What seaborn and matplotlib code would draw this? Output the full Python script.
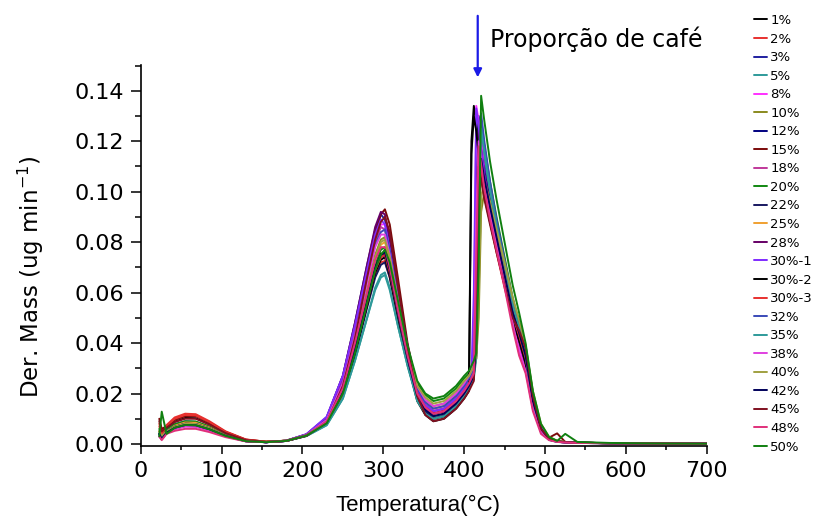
import matplotlib
matplotlib.use("Agg")
import matplotlib.pyplot as plt
import seaborn as sns
import pandas as pd
from matplotlib.ticker import MultipleLocator, FormatStrFormatter

# Temperature grid (°C) shared by every DTG curve
temperature = [23, 26, 32, 42, 55, 68, 85, 105, 130, 155, 180, 205, 230,
               250, 265, 280, 290, 297, 302, 308, 318, 330, 342, 352, 362, 375, 390, 400,
               406, 409, 412, 415, 418, 421, 425, 432, 440, 450,
               460, 468, 476, 485, 495, 505, 515, 525, 540, 580, 640, 700]

labels = ["1%", "2%", "3%", "5%", "8%", "10%", "12%", "15%", "18%", "20%", "22%", "25%",
          "28%", "30%-1", "30%-2", "30%-3", "32%", "35%", "38%", "40%", "42%", "45%", "48%", "50%"]

colors = ["#000000", "#e8312f", "#2020a0", "#2e9a9a", "#ff30ff", "#8a8a1e", "#000080", "#7b0a0a",
          "#c0389a", "#118811", "#181860", "#f0a030", "#660066", "#7f2bff", "#000000", "#e8312f",
          "#3a4ab8", "#2e9a9a", "#e040e0", "#a0a040", "#00005a", "#801020", "#e0307a", "#108010"]

# Derivative mass (ug/min) for each coffee proportion
d01 = [0.004, 0.002, 0.006, 0.0088, 0.0103, 0.0102, 0.0078, 0.0044, 0.0016, 0.0008, 0.0013, 0.0035, 0.0085,
       0.021, 0.038, 0.057, 0.070, 0.0755, 0.075, 0.068, 0.052, 0.034, 0.020, 0.0145, 0.012, 0.013, 0.017, 0.021,
       0.025, 0.120, 0.134, 0.128, 0.118, 0.110, 0.102, 0.092, 0.080, 0.065,
       0.050, 0.041, 0.031, 0.015, 0.005, 0.0018, 0.0009, 0.0007, 0.0005, 0.0003, 0.0002, 0.0001]
d02 = [0.008, 0.005, 0.0075, 0.0105, 0.0120, 0.0118, 0.0090, 0.0050, 0.0018, 0.0009, 0.0013, 0.0034, 0.0080,
       0.020, 0.036, 0.055, 0.067, 0.072, 0.0725, 0.066, 0.050, 0.033, 0.019, 0.0135, 0.011, 0.012, 0.016, 0.020,
       0.023, 0.025, 0.027, 0.060, 0.112, 0.108, 0.100, 0.088, 0.076, 0.062,
       0.049, 0.042, 0.033, 0.016, 0.006, 0.002, 0.001, 0.0007, 0.0005, 0.0003, 0.0002, 0.0001]
d03 = [0.005, 0.003, 0.0055, 0.0078, 0.0090, 0.0088, 0.0068, 0.0038, 0.0014, 0.0008, 0.0013, 0.0038, 0.0105,
       0.027, 0.048, 0.071, 0.085, 0.091, 0.089, 0.079, 0.059, 0.038, 0.022, 0.0155, 0.013, 0.014, 0.018, 0.022,
       0.025, 0.027, 0.029, 0.075, 0.130, 0.124, 0.112, 0.098, 0.085, 0.069,
       0.053, 0.045, 0.034, 0.017, 0.006, 0.002, 0.001, 0.0007, 0.0005, 0.0003, 0.0002, 0.0001]
d05 = [0.004, 0.002, 0.005, 0.0068, 0.0080, 0.0079, 0.0061, 0.0034, 0.0012, 0.0007, 0.0012, 0.0032, 0.0075,
       0.018, 0.033, 0.050, 0.061, 0.066, 0.067, 0.061, 0.047, 0.031, 0.018, 0.013, 0.011, 0.0115, 0.015, 0.019,
       0.022, 0.024, 0.026, 0.045, 0.110, 0.127, 0.115, 0.099, 0.085, 0.069,
       0.053, 0.044, 0.032, 0.015, 0.005, 0.0017, 0.0009, 0.0006, 0.0004, 0.0003, 0.0002, 0.0001]
d08 = [0.004, 0.002, 0.0045, 0.006, 0.0070, 0.0069, 0.0054, 0.0030, 0.0011, 0.0007, 0.0012, 0.0037, 0.0100,
       0.025, 0.045, 0.067, 0.081, 0.087, 0.087, 0.078, 0.059, 0.039, 0.023, 0.0165, 0.014, 0.015, 0.019, 0.023,
       0.026, 0.028, 0.040, 0.134, 0.128, 0.120, 0.108, 0.095, 0.082, 0.066,
       0.050, 0.038, 0.030, 0.014, 0.005, 0.0018, 0.0009, 0.0006, 0.0004, 0.0003, 0.0002, 0.0001]
d10 = [0.005, 0.003, 0.005, 0.0072, 0.0085, 0.0084, 0.0066, 0.0036, 0.0013, 0.0008, 0.0013, 0.0035, 0.0090,
       0.022, 0.040, 0.061, 0.075, 0.081, 0.082, 0.075, 0.057, 0.038, 0.022, 0.0175, 0.015, 0.016, 0.020, 0.024,
       0.026, 0.028, 0.030, 0.034, 0.050, 0.092, 0.100, 0.094, 0.084, 0.071,
       0.057, 0.048, 0.037, 0.019, 0.007, 0.0025, 0.0012, 0.0008, 0.0005, 0.0003, 0.0002, 0.0001]
d12 = [0.004, 0.0025, 0.005, 0.0068, 0.0080, 0.0079, 0.0062, 0.0034, 0.0012, 0.0007, 0.0012, 0.0034, 0.0085,
       0.021, 0.037, 0.056, 0.069, 0.074, 0.075, 0.068, 0.052, 0.034, 0.020, 0.0145, 0.012, 0.013, 0.017, 0.021,
       0.024, 0.026, 0.028, 0.035, 0.090, 0.115, 0.108, 0.096, 0.084, 0.069,
       0.054, 0.046, 0.036, 0.018, 0.006, 0.002, 0.001, 0.0007, 0.0005, 0.0003, 0.0002, 0.0001]
d15 = [0.010, 0.006, 0.007, 0.0095, 0.0110, 0.0110, 0.0085, 0.0047, 0.0017, 0.0009, 0.0012, 0.0032, 0.0085,
       0.023, 0.043, 0.068, 0.083, 0.091, 0.093, 0.087, 0.066, 0.040, 0.021, 0.0125, 0.010, 0.011, 0.015, 0.019,
       0.022, 0.024, 0.026, 0.050, 0.118, 0.112, 0.104, 0.092, 0.080, 0.066,
       0.052, 0.044, 0.038, 0.020, 0.007, 0.0025, 0.0042, 0.0008, 0.0005, 0.0003, 0.0002, 0.0001]
d18 = [0.003, 0.002, 0.0045, 0.006, 0.0070, 0.0069, 0.0054, 0.0030, 0.0011, 0.0007, 0.0012, 0.0036, 0.0098,
       0.025, 0.044, 0.066, 0.080, 0.086, 0.085, 0.076, 0.057, 0.037, 0.022, 0.0155, 0.013, 0.014, 0.018, 0.022,
       0.025, 0.027, 0.029, 0.070, 0.122, 0.116, 0.106, 0.093, 0.080, 0.065,
       0.050, 0.040, 0.031, 0.015, 0.005, 0.0018, 0.0009, 0.0006, 0.0004, 0.0003, 0.0002, 0.0001]
d20 = [0.006, 0.003, 0.0055, 0.0078, 0.0090, 0.0089, 0.0069, 0.0038, 0.0014, 0.0008, 0.0013, 0.0034, 0.0085,
       0.021, 0.038, 0.058, 0.071, 0.077, 0.078, 0.072, 0.056, 0.038, 0.024, 0.0195, 0.017, 0.018, 0.022, 0.026,
       0.028, 0.030, 0.032, 0.036, 0.080, 0.126, 0.118, 0.104, 0.090, 0.074,
       0.058, 0.048, 0.038, 0.020, 0.007, 0.0025, 0.0012, 0.0008, 0.0005, 0.0003, 0.0002, 0.0001]
d22 = [0.004, 0.002, 0.0045, 0.0064, 0.0075, 0.0074, 0.0058, 0.0032, 0.0011, 0.0007, 0.0012, 0.0033, 0.0080,
       0.020, 0.035, 0.054, 0.066, 0.071, 0.072, 0.066, 0.050, 0.032, 0.018, 0.0125, 0.010, 0.011, 0.015, 0.019,
       0.022, 0.024, 0.026, 0.065, 0.120, 0.114, 0.104, 0.092, 0.079, 0.064,
       0.049, 0.041, 0.032, 0.015, 0.005, 0.0017, 0.0009, 0.0006, 0.0004, 0.0003, 0.0002, 0.0001]
d25 = [0.005, 0.003, 0.005, 0.0072, 0.0085, 0.0084, 0.0065, 0.0036, 0.0013, 0.0008, 0.0013, 0.0035, 0.0090,
       0.022, 0.040, 0.060, 0.073, 0.079, 0.080, 0.073, 0.056, 0.037, 0.022, 0.0165, 0.014, 0.015, 0.019, 0.023,
       0.025, 0.027, 0.029, 0.034, 0.085, 0.113, 0.106, 0.095, 0.083, 0.069,
       0.055, 0.047, 0.038, 0.020, 0.007, 0.0024, 0.0011, 0.0007, 0.0005, 0.0003, 0.0002, 0.0001]
d28 = [0.004, 0.0025, 0.005, 0.0068, 0.0080, 0.0079, 0.0062, 0.0034, 0.0012, 0.0007, 0.0013, 0.0038, 0.0105,
       0.027, 0.048, 0.071, 0.086, 0.092, 0.091, 0.081, 0.061, 0.039, 0.022, 0.0145, 0.012, 0.013, 0.017, 0.021,
       0.024, 0.026, 0.028, 0.100, 0.124, 0.117, 0.107, 0.094, 0.081, 0.066,
       0.051, 0.043, 0.034, 0.017, 0.006, 0.002, 0.001, 0.0007, 0.0005, 0.0003, 0.0002, 0.0001]
d30a = [0.004, 0.002, 0.0045, 0.0064, 0.0075, 0.0074, 0.0058, 0.0032, 0.0011, 0.0007, 0.0013, 0.0039, 0.0108,
        0.027, 0.047, 0.069, 0.083, 0.089, 0.087, 0.077, 0.058, 0.038, 0.022, 0.0155, 0.013, 0.014, 0.018, 0.022,
        0.025, 0.027, 0.060, 0.133, 0.126, 0.117, 0.106, 0.093, 0.081, 0.066,
        0.051, 0.042, 0.033, 0.016, 0.006, 0.002, 0.001, 0.0007, 0.0005, 0.0003, 0.0002, 0.0001]
d30b = [0.003, 0.002, 0.005, 0.0068, 0.0080, 0.0079, 0.0062, 0.0034, 0.0012, 0.0007, 0.0012, 0.0033, 0.0082,
        0.020, 0.036, 0.055, 0.068, 0.073, 0.074, 0.067, 0.050, 0.032, 0.017, 0.0115, 0.009, 0.010, 0.014, 0.018,
        0.021, 0.115, 0.130, 0.124, 0.114, 0.106, 0.098, 0.088, 0.077, 0.063,
        0.049, 0.041, 0.032, 0.015, 0.005, 0.0017, 0.0009, 0.0006, 0.0004, 0.0003, 0.0002, 0.0001]
d30c = [0.007, 0.004, 0.007, 0.0100, 0.0115, 0.0113, 0.0087, 0.0048, 0.0017, 0.0009, 0.0013, 0.0034, 0.0082,
        0.020, 0.037, 0.056, 0.069, 0.074, 0.075, 0.068, 0.052, 0.034, 0.020, 0.0145, 0.012, 0.013, 0.017, 0.021,
        0.024, 0.026, 0.028, 0.038, 0.090, 0.108, 0.101, 0.090, 0.079, 0.065,
        0.051, 0.043, 0.034, 0.017, 0.006, 0.002, 0.001, 0.0007, 0.0005, 0.0003, 0.0002, 0.0001]
d32 = [0.004, 0.0025, 0.005, 0.0068, 0.0080, 0.0079, 0.0062, 0.0034, 0.0012, 0.0007, 0.0013, 0.0036, 0.0095,
       0.024, 0.043, 0.065, 0.079, 0.084, 0.085, 0.077, 0.058, 0.038, 0.022, 0.0165, 0.014, 0.015, 0.019, 0.023,
       0.026, 0.028, 0.030, 0.048, 0.112, 0.131, 0.120, 0.104, 0.089, 0.073,
       0.057, 0.048, 0.039, 0.020, 0.007, 0.0024, 0.0011, 0.0007, 0.0005, 0.0003, 0.0002, 0.0001]
d35 = [0.004, 0.002, 0.0045, 0.0064, 0.0075, 0.0074, 0.0058, 0.0032, 0.0011, 0.0007, 0.0012, 0.0031, 0.0074,
       0.018, 0.033, 0.050, 0.062, 0.067, 0.068, 0.062, 0.047, 0.031, 0.017, 0.012, 0.010, 0.011, 0.015, 0.019,
       0.022, 0.024, 0.026, 0.034, 0.092, 0.125, 0.116, 0.101, 0.087, 0.071,
       0.055, 0.046, 0.035, 0.016, 0.005, 0.0016, 0.0008, 0.0006, 0.0004, 0.0003, 0.0002, 0.0001]
d38 = [0.003, 0.002, 0.0045, 0.006, 0.0070, 0.0069, 0.0054, 0.0030, 0.0011, 0.0007, 0.0012, 0.0036, 0.0095,
       0.024, 0.043, 0.064, 0.078, 0.083, 0.083, 0.075, 0.057, 0.038, 0.023, 0.0175, 0.015, 0.016, 0.020, 0.024,
       0.027, 0.029, 0.031, 0.090, 0.120, 0.113, 0.104, 0.092, 0.079, 0.064,
       0.048, 0.036, 0.029, 0.014, 0.005, 0.0018, 0.0009, 0.0006, 0.0004, 0.0003, 0.0002, 0.0001]
d40 = [0.005, 0.003, 0.005, 0.0068, 0.0080, 0.0079, 0.0062, 0.0034, 0.0012, 0.0008, 0.0013, 0.0035, 0.0088,
       0.022, 0.039, 0.060, 0.074, 0.080, 0.081, 0.074, 0.057, 0.038, 0.023, 0.0185, 0.016, 0.017, 0.021, 0.025,
       0.027, 0.029, 0.031, 0.035, 0.060, 0.098, 0.104, 0.096, 0.085, 0.072,
       0.058, 0.049, 0.039, 0.021, 0.008, 0.0028, 0.0013, 0.0008, 0.0005, 0.0003, 0.0002, 0.0001]
d42 = [0.004, 0.002, 0.0045, 0.0064, 0.0075, 0.0074, 0.0058, 0.0032, 0.0011, 0.0007, 0.0012, 0.0034, 0.0085,
       0.021, 0.038, 0.057, 0.070, 0.075, 0.076, 0.069, 0.052, 0.034, 0.019, 0.0135, 0.011, 0.012, 0.016, 0.020,
       0.023, 0.025, 0.027, 0.040, 0.098, 0.113, 0.105, 0.094, 0.082, 0.067,
       0.052, 0.044, 0.035, 0.017, 0.006, 0.002, 0.001, 0.0007, 0.0005, 0.0003, 0.0002, 0.0001]
d45 = [0.009, 0.005, 0.0065, 0.0087, 0.0100, 0.0100, 0.0077, 0.0043, 0.0015, 0.0008, 0.0012, 0.0032, 0.0085,
       0.023, 0.042, 0.066, 0.081, 0.088, 0.090, 0.084, 0.063, 0.038, 0.019, 0.0115, 0.009, 0.010, 0.014, 0.018,
       0.021, 0.023, 0.025, 0.055, 0.110, 0.105, 0.097, 0.087, 0.076, 0.063,
       0.050, 0.045, 0.038, 0.019, 0.006, 0.0022, 0.0011, 0.0007, 0.0005, 0.0003, 0.0002, 0.0001]
d48 = [0.003, 0.0015, 0.004, 0.0052, 0.0060, 0.0060, 0.0047, 0.0027, 0.0010, 0.0007, 0.0012, 0.0034, 0.0090,
       0.022, 0.040, 0.060, 0.073, 0.078, 0.078, 0.070, 0.053, 0.035, 0.020, 0.0145, 0.012, 0.013, 0.017, 0.021,
       0.024, 0.026, 0.028, 0.075, 0.118, 0.111, 0.101, 0.089, 0.077, 0.062,
       0.046, 0.035, 0.028, 0.013, 0.004, 0.0015, 0.0008, 0.0006, 0.0004, 0.0003, 0.0002, 0.0001]
d50 = [0.003, 0.0128, 0.004, 0.0064, 0.0075, 0.0074, 0.0058, 0.0032, 0.0011, 0.0007, 0.0012, 0.0033, 0.0082,
       0.020, 0.036, 0.056, 0.069, 0.075, 0.077, 0.072, 0.057, 0.039, 0.025, 0.020, 0.018, 0.019, 0.023, 0.027,
       0.029, 0.031, 0.033, 0.036, 0.070, 0.138, 0.128, 0.112, 0.097, 0.080,
       0.063, 0.052, 0.040, 0.021, 0.008, 0.0028, 0.0012, 0.004, 0.0008, 0.0004, 0.0002, 0.0001]

series = [d01, d02, d03, d05, d08, d10, d12, d15, d18, d20, d22, d25,
          d28, d30a, d30b, d30c, d32, d35, d38, d40, d42, d45, d48, d50]

frames = []
for lab, vals in zip(labels, series):
    frames.append(pd.DataFrame({"Temperatura": temperature, "DTG": vals, "Amostra": lab}))
df = pd.concat(frames, ignore_index=True)

sns.set_style("ticks")
plt.rcParams["font.family"] = ["DejaVu Sans"]
plt.rcParams.update({"text.color": "black", "axes.labelcolor": "black",
                     "xtick.color": "black", "ytick.color": "black",
                     "axes.edgecolor": "black"})

fig = plt.figure(figsize=(8.19, 5.21), dpi=100)
ax = fig.add_axes([0.1718, 0.144, 0.6911, 0.7312])

sns.lineplot(data=df, x="Temperatura", y="DTG", hue="Amostra", hue_order=labels,
             palette=colors, estimator=None, sort=False, linewidth=1.4, legend=False, ax=ax)

ax.set_xlim(0, 700)
ax.set_ylim(-0.0008, 0.1502)
ax.xaxis.set_major_locator(MultipleLocator(100))
ax.xaxis.set_minor_locator(MultipleLocator(50))
ax.yaxis.set_major_locator(MultipleLocator(0.02))
ax.yaxis.set_minor_locator(MultipleLocator(0.01))
ax.yaxis.set_major_formatter(FormatStrFormatter("%.2f"))
ax.tick_params(axis="x", which="major", direction="out", length=5.5, width=1.1, pad=5,
               labelsize=16, colors="black")
ax.tick_params(axis="x", which="minor", direction="out", length=3, width=1.1)
ax.tick_params(axis="y", which="major", direction="out", length=7, width=1.1, pad=5,
               labelsize=16, colors="black")
ax.tick_params(axis="y", which="minor", direction="out", length=4, width=1.1)
for side in ("left", "bottom"):
    ax.spines[side].set_linewidth(1.2)
    ax.spines[side].set_color("black")
sns.despine(ax=ax)

ax.set_xlabel("Temperatura(°C)", fontsize=16, family=["Liberation Sans", "DejaVu Sans"])
ax.set_ylabel("Der. Mass (ug min$^{\\mathregular{-1}}$)", fontsize=16.5)
ax.xaxis.set_label_coords(0.49, -0.128)
ax.yaxis.set_label_coords(-0.168, 0.445)

# Arrow and caption for the coffee proportion trend
ax.annotate("", xy=(416.8, 0.1442), xytext=(416.8, 0.1708), xycoords="data",
            arrowprops=dict(arrowstyle="-|>", color="#1a1ae6", lw=1.6, mutation_scale=12),
            annotation_clip=False)
ax.text(432, 0.1605, "Proporção de café", fontsize=17, va="center", ha="left",
        clip_on=False)

handles = ax.get_lines()[:len(labels)]
fig.legend(handles, labels, loc="upper left", bbox_to_anchor=(0.921, 0.973),
           frameon=False, fontsize=9.5, handlelength=1.0, handletextpad=0.2,
           labelspacing=0.42, borderpad=0.0, borderaxespad=0.0)

fig.savefig("out.png", dpi=100)
